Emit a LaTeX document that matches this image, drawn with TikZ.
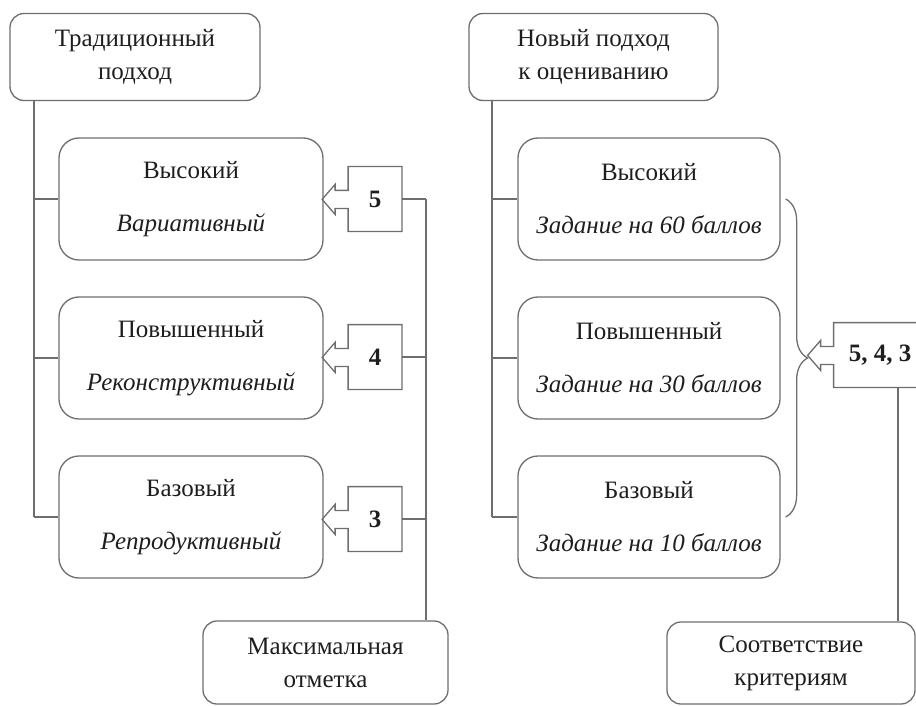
\documentclass[tikz,border=0pt]{standalone}
\usepackage{fontspec}
\setmainfont{Liberation Serif}
\usetikzlibrary{calc,decorations.pathreplacing}

\definecolor{edgegray}{HTML}{6E6E6E}
\definecolor{inkgray}{HTML}{1E1E1E}

\begin{document}
\begin{tikzpicture}[
  x=0.5pt, y=-0.5pt,
  line/.style={draw=edgegray, line width=0.65pt},
  headbox/.style={line, rectangle, rounded corners=7pt, minimum height=43.5pt,
    align=center, text=inkgray, font=\fontsize{12.5}{16.5}\selectfont},
  levelbox/.style={line, rectangle, rounded corners=10pt, minimum height=61pt,
    align=center, text=inkgray, font=\fontsize{12.5}{15}\selectfont},
  markbox/.style={rectangle, minimum width=26.5pt, minimum height=32pt, inner sep=0pt,
    text=inkgray, font=\bfseries\fontsize{12.5}{15}\selectfont}
]
  \useasboundingbox (0,0) rectangle (916,706);
  \clip (0,0) rectangle (916,706);

  % left column
  \node[headbox, minimum width=125pt] (trad) at (135,57) {Традиционный\\подход};
  \node[levelbox, minimum width=132pt] (hi1) at (191,199) {Высокий\\[11.5pt]\textit{Вариативный}};
  \node[levelbox, minimum width=132pt] (mid1) at (191,358) {Повышенный\\[11.5pt]\textit{Реконструктивный}};
  \node[levelbox, minimum width=132pt] (bas1) at (191,517) {Базовый\\[11.5pt]\textit{Репродуктивный}};
  \node[headbox, minimum width=122.5pt, minimum height=41.5pt] (maxm) at (325.5,662.5) {Максимальная\\отметка};

  \node[markbox] (c5) at (375,199) {5};
  \node[markbox] (c4) at (375,357) {4};
  \node[markbox] (c3) at (375,519) {3};

  % right column
  \node[headbox, minimum width=124.5pt] (novy) at (593.5,57) {Новый подход\\к оцениванию};
  \node[levelbox, minimum width=131pt] (hi2) at (649,199) {Высокий\\[11.5pt]\textit{Задание на 60 баллов}};
  \node[levelbox, minimum width=131pt] (mid2) at (649,358) {Повышенный\\[11.5pt]\textit{Задание на 30 баллов}};
  \node[levelbox, minimum width=131pt] (bas2) at (649,517) {Базовый\\[11.5pt]\textit{Задание на 10 баллов}};
  \node[headbox, minimum width=124pt, minimum height=41pt] (sootv) at (791,663) {Соответствие\\критериям};

  \node[markbox, minimum width=46pt] (c543) at (880,355) {5, 4, 3};

  \coordinate (ltrunk) at (34,0);
  \coordinate (rtrunk) at (492,0);
  \coordinate (lbus) at (426,0);
  \coordinate (rbus) at (898,0);

  % callouts with arrow
  \foreach \c in {c5,c4,c3,c543}
    \draw[line] (\c.north west) -- (\c.north east) -- (\c.south east) -- (\c.south west)
      -- ++(0,-23) -- ++(-13,0) -- ++(0,6) -- ++(-13,-15) -- ++(13,-15)
      -- ++(0,6) -- ++(13,0) -- cycle;

  % trees
  \draw[line] (trad.south -| ltrunk) -- (bas1.west -| ltrunk);
  \foreach \n in {hi1,mid1,bas1}
    \draw[line] (\n.west -| ltrunk) -- (\n.west);
  \draw[line] (novy.south -| rtrunk) -- (bas2.west -| rtrunk);
  \foreach \n in {hi2,mid2,bas2}
    \draw[line] (\n.west -| rtrunk) -- (\n.west);

  % marks to bottom boxes
  \foreach \c in {c5,c4,c3}
    \draw[line] (\c.east) -- (\c.east -| lbus);
  \draw[line] (c5.east -| lbus) -- (maxm.north -| lbus);
  \draw[line] (c543.south -| rbus) -- (sootv.north -| rbus);

  % brace
  \draw[line, decorate, decoration={brace, amplitude=11pt}]
    ($(hi2.east)+(5,0)$) -- ($(bas2.east)+(5,0)$);
\end{tikzpicture}
\end{document}
